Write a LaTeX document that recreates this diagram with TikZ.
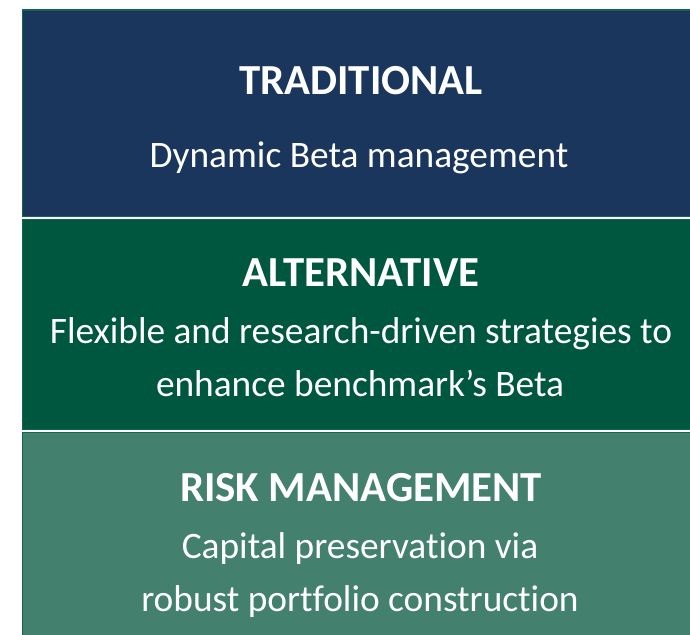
\documentclass[tikz,border=0pt]{standalone}
\usepackage{fontspec}
\setmainfont[Ligatures={NoCommon,NoRare}]{Carlito}
\definecolor{navy}{HTML}{1B365D}
\definecolor{deepgreen}{HTML}{00573F}
\definecolor{softgreen}{HTML}{43806E}
\definecolor{edgegreen}{HTML}{12664B}
\begin{document}
\begin{tikzpicture}[x=1bp,y=-1bp,
  band/.style={draw=edgegreen,line width=1.2bp},
  headline/.style={text=white,font=\fontsize{43}{51}\selectfont\bfseries,anchor=base,inner sep=0pt},
  bodyline/.style={text=white,font=\fontsize{37.5}{45}\selectfont,anchor=base,inner sep=0pt}]
\useasboundingbox (0,0) rectangle (690,635);
% three stacked bands
\fill[white] (0,0) rectangle (690,635);
\path[band,fill=navy]      (22.5,10)  rectangle (700,216.5);
\path[band,fill=deepgreen] (22.5,219.5) rectangle (700,429.5);
\path[band,fill=softgreen] (22.5,432.5) rectangle (700,640);
% texts
\node[headline] (t1) at (361,95) {TRADITIONAL};
\node[bodyline] (s1) at (359,167.5) {Dynamic Beta management};
\node[headline] (t2) at (361,286) {ALTERNATIVE};
\node[bodyline] (s2a) at (361,343) {Flexible and research-driven strategies to};
\node[bodyline] (s2b) at (360,396.5) {enhance benchmark’s Beta};
\node[headline] (t3) at (361,501.5) {RISK MANAGEMENT};
\node[bodyline] (s3a) at (360,558) {Capital preservation via};
\node[bodyline] (s3b) at (360,611) {robust portfolio construction};
\end{tikzpicture}
\end{document}
